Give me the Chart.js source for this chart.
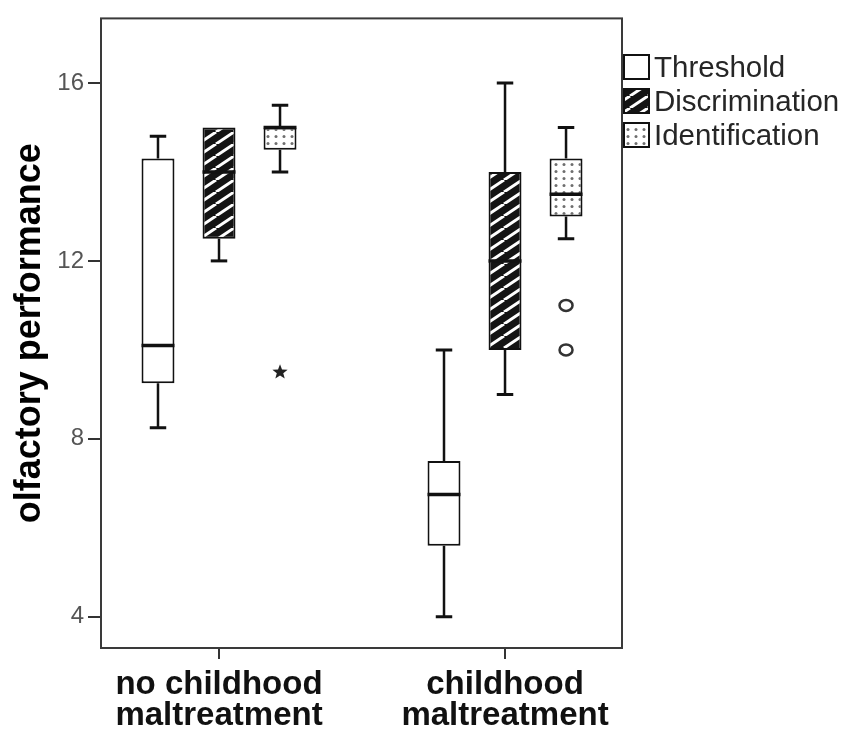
<!DOCTYPE html>
<html>
<head>
<meta charset="utf-8">
<script src="https://cdn.jsdelivr.net/npm/chart.js@4.4.1/dist/chart.umd.min.js"></script>
<style>
  html, body { margin: 0; padding: 0; background: #fff; }
  #wrap { width: 846px; height: 731px; }
</style>
</head>
<body>
<div id="wrap"><canvas id="boxChart" width="846" height="731"></canvas></div>
<script>
// --- dados ---
const groupLabels = [['no childhood', 'maltreatment'], ['childhood', 'maltreatment']];
const seriesNames = ['Threshold', 'Discrimination', 'Identification'];
const yTicks = [4, 8, 12, 16];

const thresholdMin = [8.25, 4];
const thresholdQ1 = [9.25, 5.6];
const thresholdMedian = [10.1, 6.75];
const thresholdQ3 = [14.3, 7.5];
const thresholdMax = [14.8, 10];
const thresholdOutliers = [[], []];

const discrimMin = [12, 9];
const discrimQ1 = [12.5, 10];
const discrimMedian = [14, 12];
const discrimQ3 = [15, 14];
const discrimMax = [15, 16];
const discrimOutliers = [[], []];

const identMin = [14, 12.5];
const identQ1 = [14.5, 13];
const identMedian = [15, 13.5];
const identQ3 = [15, 14.3];
const identMax = [15.5, 15];
const identOutliers = [[9.5], [11, 10]];

const series = [
    { min: thresholdMin, q1: thresholdQ1, med: thresholdMedian, q3: thresholdQ3, max: thresholdMax, out: thresholdOutliers },
    { min: discrimMin, q1: discrimQ1, med: discrimMedian, q3: discrimQ3, max: discrimMax, out: discrimOutliers },
    { min: identMin, q1: identQ1, med: identMedian, q3: identQ3, max: identMax, out: identOutliers }
];

const FONT = '"Liberation Sans", Arial, Helvetica, sans-serif';

// --- padrões de preenchimento ---
function hatchPattern() {
    const w = 18, h = 12;
    const c = document.createElement('canvas');
    c.width = w; c.height = h;
    const g = c.getContext('2d');
    g.fillStyle = '#141414';
    g.fillRect(0, 0, w, h);
    g.strokeStyle = '#ffffff';
    g.lineWidth = 3;
    [-w, 0, w].forEach(dx => {
        g.beginPath();
        g.moveTo(dx, h);
        g.lineTo(dx + w, 0);
        g.stroke();
    });
    return g.createPattern(c, 'repeat');
}

function dotPattern() {
    const c = document.createElement('canvas');
    c.width = 8; c.height = 7;
    const g = c.getContext('2d');
    g.fillStyle = '#ffffff';
    g.fillRect(0, 0, 8, 7);
    g.fillStyle = '#6e6e6e';
    g.beginPath();
    g.arc(4, 3.5, 1.5, 0, Math.PI * 2);
    g.fill();
    return g.createPattern(c, 'repeat');
}

const fills = ['#ffffff', hatchPattern(), dotPattern()];

// --- bigodes, medianas, outliers e moldura ---
const boxPlotPlugin = {
    id: 'boxPlot',
    afterDatasetsDraw(chart) {
        const ctx = chart.ctx;
        const y = chart.scales.y;
        ctx.save();
        ctx.strokeStyle = '#111';
        series.forEach((s, si) => {
            const meta = chart.getDatasetMeta(si);
            meta.data.forEach((bar, gi) => {
                const x = bar.x;
                const half = bar.width / 2;
                const cap = bar.width / 4;
                const pMin = y.getPixelForValue(s.min[gi]);
                const pMax = y.getPixelForValue(s.max[gi]);
                const pQ1 = y.getPixelForValue(s.q1[gi]);
                const pQ3 = y.getPixelForValue(s.q3[gi]);
                const pMed = y.getPixelForValue(s.med[gi]);

                ctx.lineWidth = 2.5;
                ctx.beginPath();
                if (s.max[gi] > s.q3[gi]) { ctx.moveTo(x, pQ3); ctx.lineTo(x, pMax); }
                if (s.min[gi] < s.q1[gi]) { ctx.moveTo(x, pQ1); ctx.lineTo(x, pMin); }
                ctx.stroke();

                ctx.lineWidth = 3;
                ctx.beginPath();
                if (s.max[gi] > s.q3[gi]) { ctx.moveTo(x - cap, pMax); ctx.lineTo(x + cap, pMax); }
                if (s.min[gi] < s.q1[gi]) { ctx.moveTo(x - cap, pMin); ctx.lineTo(x + cap, pMin); }
                ctx.stroke();

                ctx.lineWidth = 3.5;
                ctx.beginPath();
                ctx.moveTo(x - half, pMed);
                ctx.lineTo(x + half, pMed);
                ctx.stroke();

                const iqr = s.q3[gi] - s.q1[gi];
                s.out[gi].forEach(v => {
                    const py = y.getPixelForValue(v);
                    const extreme = v < s.q1[gi] - 3 * iqr || v > s.q3[gi] + 3 * iqr;
                    if (extreme) {
                        ctx.fillStyle = '#222';
                        ctx.beginPath();
                        for (let k = 0; k < 10; k++) {
                            const r = k % 2 === 0 ? 8 : 3.4;
                            const a = -Math.PI / 2 + k * Math.PI / 5;
                            const px = x + r * Math.cos(a);
                            const qy = py + r * Math.sin(a);
                            if (k === 0) ctx.moveTo(px, qy); else ctx.lineTo(px, qy);
                        }
                        ctx.closePath();
                        ctx.fill();
                    } else {
                        ctx.lineWidth = 2.5;
                        ctx.strokeStyle = '#333';
                        ctx.beginPath();
                        ctx.ellipse(x, py, 6.5, 5.5, 0, 0, Math.PI * 2);
                        ctx.stroke();
                        ctx.strokeStyle = '#111';
                    }
                });
            });
        });

        const a = chart.chartArea;
        ctx.lineWidth = 2;
        ctx.strokeStyle = '#3a3a3a';
        ctx.strokeRect(a.left, a.top, a.right - a.left, a.bottom - a.top);
        ctx.restore();
    },
    afterDraw(chart) {
        // legenda
        const ctx = chart.ctx;
        const a = chart.chartArea;
        const x0 = a.right + 1;
        const y0 = 54;
        ctx.save();
        ctx.font = '29.5px ' + FONT;
        ctx.textBaseline = 'middle';
        chart.data.datasets.forEach((ds, i) => {
            const top = y0 + i * 34;
            ctx.fillStyle = ds.backgroundColor;
            ctx.fillRect(x0, top, 27, 26);
            ctx.lineWidth = 2;
            ctx.strokeStyle = '#111';
            ctx.strokeRect(x0 + 1, top + 1, 25, 24);
            ctx.fillStyle = '#262626';
            ctx.fillText(ds.label, x0 + 31, top + 15);
        });
        ctx.restore();
    }
};

const ctx = document.getElementById('boxChart').getContext('2d');
new Chart(ctx, {
    type: 'bar',
    data: {
        datasets: series.map((s, si) => ({
            label: seriesNames[si],
            data: s.q1.map((lo, gi) => ({ x: gi, y: [lo, s.q3[gi]] })),
            backgroundColor: fills[si],
            borderColor: '#111',
            borderWidth: 2,
            borderSkipped: false
        }))
    },
    options: {
        responsive: false,
        animation: false,
        layout: { padding: { top: 13, right: 224, bottom: 0, left: 0 } },
        datasets: { bar: { categoryPercentage: 0.64, barPercentage: 0.54 } },
        scales: {
            x: {
                type: 'linear',
                min: -0.4126,
                max: 1.409,
                offset: false,
                afterBuildTicks: scale => { scale.ticks = groupLabels.map((_, i) => ({ value: i })); },
                afterFit: scale => { scale.height = 83; },
                ticks: {
                    callback: v => groupLabels[v],
                    autoSkip: false,
                    maxRotation: 0,
                    padding: 10,
                    color: '#111',
                    font: { family: FONT, size: 33, weight: 'bold', lineHeight: 0.94 }
                },
                grid: { drawOnChartArea: false, offset: false, tickLength: 11, color: '#333', lineWidth: 2 },
                border: { display: false }
            },
            y: {
                min: 3.3,
                max: 17.45,
                afterBuildTicks: scale => { scale.ticks = yTicks.map(v => ({ value: v })); },
                afterFit: scale => { scale.width = 101; },
                ticks: {
                    padding: 4,
                    color: '#555',
                    font: { family: FONT, size: 24 }
                },
                grid: { drawOnChartArea: false, tickLength: 13, color: '#333', lineWidth: 2 },
                border: { display: false },
                title: {
                    display: true,
                    text: 'olfactory performance',
                    color: '#000',
                    padding: { top: 8, bottom: 0 },
                    font: { family: FONT, size: 36, weight: 'bold' }
                }
            }
        },
        plugins: {
            legend: { display: false },
            tooltip: { enabled: false }
        }
    },
    plugins: [boxPlotPlugin]
});
</script>
</body>
</html>
